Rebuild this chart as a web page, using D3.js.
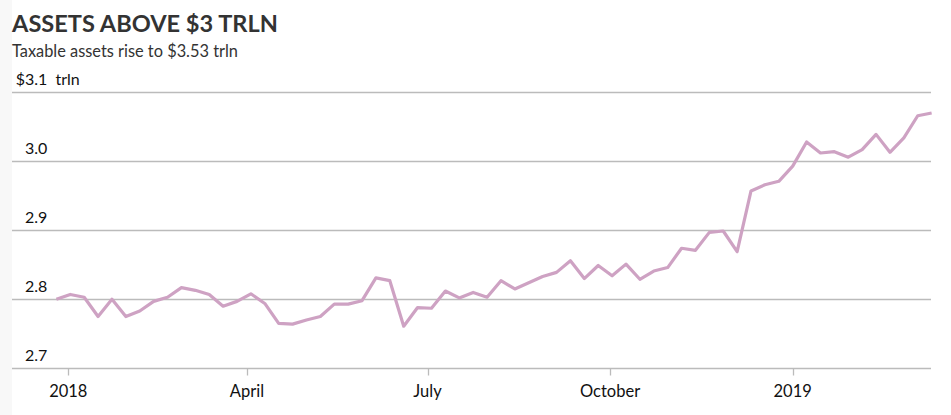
<!DOCTYPE html>
<html>
<head>
<meta charset="utf-8">
<script src="https://cdn.jsdelivr.net/npm/d3@7"></script>
<style>
  html, body { margin: 0; padding: 0; background: #fff; }
  svg { display: block; }
  text { font-family: "Lato", "Open Sans", sans-serif; }
</style>
</head>
<body>
<svg id="chart" width="951" height="415"></svg>
<script>
const title = "ASSETS ABOVE $3 TRLN";
const subtitle = "Taxable assets rise to $3.53 trln";
const unitLabel = "trln";
const startDate = "2017-12-26";
const values = [
  2.800, 2.807, 2.803, 2.775, 2.800, 2.775, 2.783, 2.797, 2.803, 2.817,
  2.813, 2.807, 2.790, 2.797, 2.808, 2.794, 2.765, 2.764, 2.770, 2.775,
  2.793, 2.793, 2.798, 2.831, 2.827, 2.761, 2.788, 2.787, 2.812, 2.802,
  2.810, 2.803, 2.827, 2.815, 2.824, 2.833, 2.839, 2.856, 2.830, 2.849,
  2.834, 2.851, 2.829, 2.841, 2.846, 2.874, 2.871, 2.897, 2.899, 2.869,
  2.957, 2.966, 2.971, 2.993, 3.028, 3.012, 3.014, 3.006, 3.017, 3.039,
  3.013, 3.034, 3.066, 3.070
];
const yTicks = [2.7, 2.8, 2.9, 3.0, 3.1];
const xTickDates = ["2018-01-01", "2018-04-01", "2018-07-01", "2018-10-01", "2019-01-01"];
const xTickLabels = ["2018", "April", "July", "October", "2019"];

const parse = d3.utcParse("%Y-%m-%d");
const start = parse(startDate);
const data = values.map((v, i) => ({ date: d3.utcDay.offset(start, 7 * i), value: v }));

const svg = d3.select("#chart");
svg.append("rect").attr("x", 0).attr("y", 0).attr("width", 12).attr("height", 415).attr("fill", "#f8f8f8");

const gridLeft = 12, gridRight = 931;
const x = d3.scaleUtc()
  .domain([parse(xTickDates[0]), parse(xTickDates[4])])
  .range([68.3, 792.7]);
const y = d3.scaleLinear().domain([2.7, 3.1]).range([368.3, 92.3]);

function fit(sel, target) {
  const w = sel.node().getComputedTextLength();
  const fs = parseFloat(sel.attr("font-size"));
  sel.attr("font-size", fs * target / w);
}

// Title
const t = svg.append("text").attr("x", 12).attr("y", 32.3)
  .attr("font-size", 24).attr("font-weight", 700).attr("fill", "#333")
  .text(title);
fit(t, 266);
const st = svg.append("text").attr("x", 12).attr("y", 56.7)
  .attr("font-size", 16).attr("fill", "#333")
  .text(subtitle);
fit(st, 226);

// Gridlines
svg.append("g").selectAll("line").data(yTicks).join("line")
  .attr("x1", gridLeft).attr("x2", gridRight)
  .attr("y1", d => Math.round(y(d)) + 0.5).attr("y2", d => Math.round(y(d)) + 0.5)
  .attr("stroke", "#bbbbbb").attr("stroke-width", 1.3);

// Y labels
const ylab = svg.append("g").attr("font-size", 16).attr("fill", "#111");
yTicks.forEach(d => {
  const yy = y(d) - 7;
  const txt = d3.format(".1f")(d);
  if (d === 3.1) {
    ylab.append("text").attr("x", 25).attr("y", yy).attr("text-anchor", "end").text("$");
    ylab.append("text").attr("x", 25).attr("y", yy).attr("xml:space", "preserve").text(txt + "  " + unitLabel);
  } else {
    ylab.append("text").attr("x", 25).attr("y", yy).text(txt);
  }
});

// X axis ticks
const xg = svg.append("g");
xTickDates.forEach((ds, i) => {
  const xx = Math.round(x(parse(ds))) + 0.5;
  xg.append("line").attr("x1", xx).attr("x2", xx).attr("y1", y(2.7)).attr("y2", 375.5)
    .attr("stroke", "#bbbbbb").attr("stroke-width", 1.3);
  xg.append("text").attr("x", x(parse(ds))).attr("y", 397.3)
    .attr("text-anchor", "middle").attr("font-size", 16.5).attr("fill", "#111")
    .text(xTickLabels[i]);
});

// Line
const line = d3.line().x(d => x(d.date)).y(d => y(d.value));
svg.append("path").datum(data)
  .attr("d", line)
  .attr("fill", "none")
  .attr("stroke", "#cea2c3")
  .attr("stroke-width", 3.2)
  .attr("stroke-linejoin", "round")
  .attr("stroke-linecap", "butt");
</script>
</body>
</html>
